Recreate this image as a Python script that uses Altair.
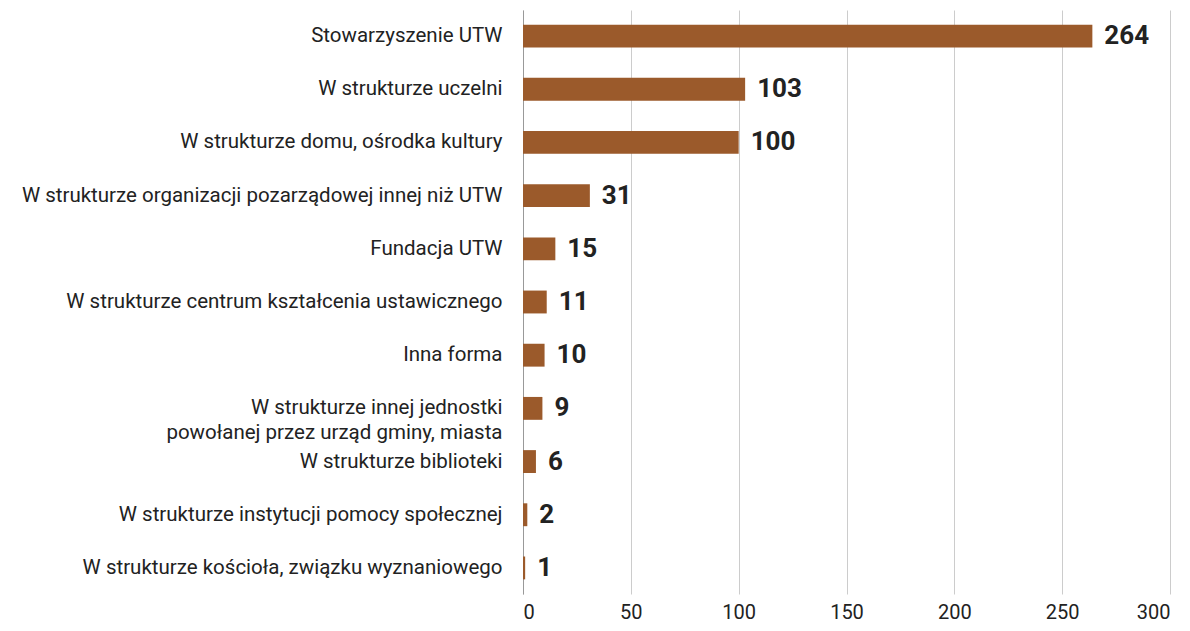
import altair as alt
import pandas as pd

categories = [
    "Stowarzyszenie UTW",
    "W strukturze uczelni",
    "W strukturze domu, ośrodka kultury",
    "W strukturze organizacji pozarządowej innej niż UTW",
    "Fundacja UTW",
    "W strukturze centrum kształcenia ustawicznego",
    "Inna forma",
    "W strukturze innej jednostki|powołanej przez urząd gminy, miasta",
    "W strukturze biblioteki",
    "W strukturze instytucji pomocy społecznej",
    "W strukturze kościoła, związku wyznaniowego",
]
values = [264, 103, 100, 31, 15, 11, 10, 9, 6, 2, 1]
x_ticks = [0, 50, 100, 150, 200, 250, 300]

df = pd.DataFrame({"cat": categories, "val": values})

FONT = "Roboto"

y = alt.Y(
    "cat:N",
    sort=None,
    title=None,
    scale=alt.Scale(paddingInner=0.57, paddingOuter=0.275),
    axis=alt.Axis(
        labelExpr="split(datum.label, '|')",
        labelFontSize=20.5,
        labelFont=FONT,
        labelColor="#222222",
        labelPadding=21,
        ticks=False,
        domainColor="#999999",
        labelLimit=600,
        labelLineHeight=25,
    ),
)
x = alt.X(
    "val:Q",
    title=None,
    scale=alt.Scale(domain=[0, 300]),
    axis=alt.Axis(
        values=x_ticks,
        grid=True,
        gridColor="#cccccc",
        domain=False,
        ticks=False,
        labelFontSize=20,
        labelFont=FONT,
        labelColor="#222222",
        labelPadding=8,
    ),
)

bars = alt.Chart(df).mark_bar(color="#9B5A2B").encode(x=x, y=y)
labels = alt.Chart(df).mark_text(
    align="left", baseline="middle", dx=12, fontSize=26, fontWeight="bold",
    font=FONT, color="#222222"
).encode(x="val:Q", y=alt.Y("cat:N", sort=None), text="val:Q")

chart = (bars + labels).properties(
    width=647, height=584, padding={"top": 2, "left": 13, "right": 5, "bottom": 2}
).configure_view(stroke=None)

chart.save("out.html", embed_options={"renderer": "svg", "actions": False})
